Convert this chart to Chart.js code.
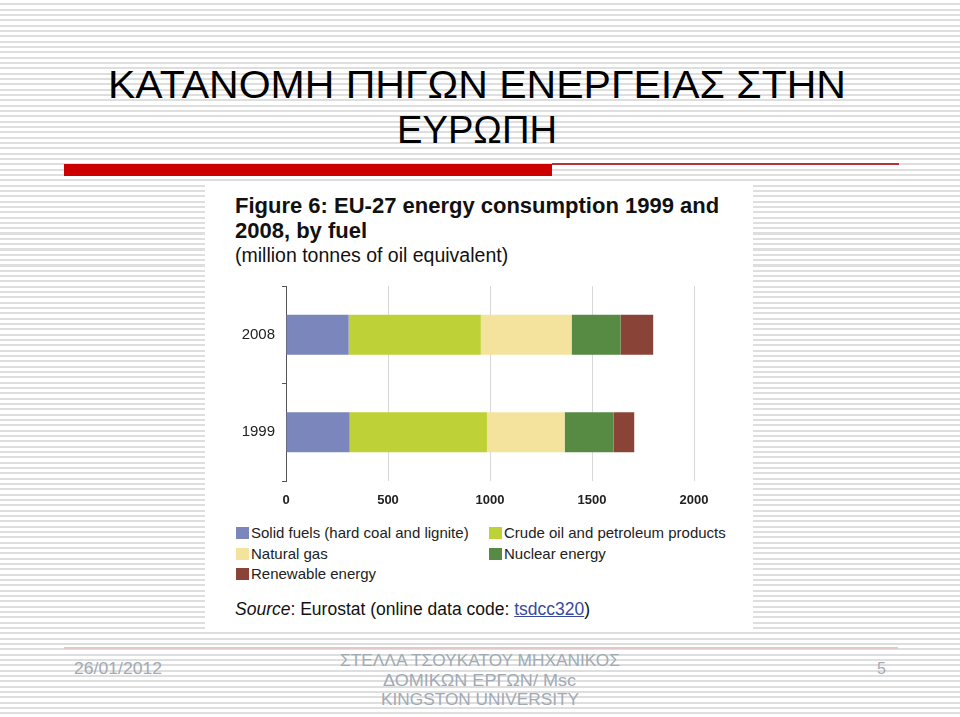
<!DOCTYPE html>
<html>
<head>
<meta charset="utf-8">
<script src="https://cdn.jsdelivr.net/npm/chart.js@4.4.1/dist/chart.umd.min.js"></script>
<style>
    html, body {
        margin: 0;
        padding: 0;
    }
    body {
        width: 960px;
        height: 717px;
        position: relative;
        overflow: hidden;
        background: #fff repeating-linear-gradient(to bottom, #fff 0px, #fff 3.3px, #dedede 3.3px, #dedede 5.33px);
    }
    .abs {
        position: absolute;
        white-space: nowrap;
    }
    .title {
        font-family: "Liberation Sans", sans-serif;
        font-size: 39.4px;
        line-height: 44px;
        color: #000;
        transform-origin: 0 0;
    }
    .redbar {
        left: 64px;
        top: 164px;
        width: 488px;
        height: 12px;
        background: #cc0000;
    }
    .redline {
        left: 552px;
        top: 163px;
        width: 347px;
        height: 2px;
        background: #b8323a;
    }
    .footline {
        left: 64px;
        top: 647px;
        width: 834px;
        height: 2px;
        background: #e2c8c8;
    }
    .panel {
        left: 205px;
        top: 182px;
        width: 548px;
        height: 450px;
        background: #fff;
    }
    .fig {
        font-family: "Liberation Sans", Arial, sans-serif;
        color: #111;
    }
    .legend-item {
        position: absolute;
        font-family: "Liberation Sans", Arial, sans-serif;
        font-size: 15px;
        line-height: 16px;
        color: #222;
        white-space: nowrap;
    }
    .legend-item span.box {
        position: absolute;
        left: 0;
        top: 2px;
        width: 13px;
        height: 12px;
    }
    .legend-item span.txt {
        position: absolute;
        left: 15px;
        top: 0;
    }
    .foot {
        font-family: "Liberation Sans", sans-serif;
        font-size: 16px;
        line-height: 18px;
        color: #a2aab4;
        transform-origin: 0 0;
    }
</style>
</head>
<body>

<!-- each text: [left, width] used to stretch it like the original slide -->
<div class="abs title fit" data-x="108" data-w="738" style="top:62px;">ΚΑΤΑΝΟΜΗ ΠΗΓΩΝ ΕΝΕΡΓΕΙΑΣ ΣΤΗΝ</div>
<div class="abs title fit" data-x="397" data-w="160" style="top:107px;">ΕΥΡΩΠΗ</div>
<div class="abs redbar"></div>
<div class="abs redline"></div>

<div class="abs panel"></div>
<div class="abs fig" style="left:235px;top:193px;font-size:22px;font-weight:bold;line-height:25px;">Figure 6: EU-27 energy consumption 1999 and<br>2008, by fuel</div>
<div class="abs fig" style="left:235px;top:244px;font-size:19.5px;line-height:22px;">(million tonnes of oil equivalent)</div>

<div class="abs" style="left:205px;top:270px;width:548px;height:245px;">
    <canvas id="energyChart"></canvas>
</div>

<div id="legend"></div>

<div class="abs fig" style="left:235px;top:599px;font-size:17.5px;line-height:20px;"><i>Source</i>: Eurostat (online data code: <span style="color:#3a4a9a;text-decoration:underline;">tsdcc320</span>)</div>

<div class="abs footline"></div>
<div class="abs foot fit" data-x="74" data-w="88" style="top:660px;">26/01/2012</div>
<div class="abs foot fit" data-x="340" data-w="280" style="top:652px;">ΣΤΕΛΛΑ ΤΣΟΥΚΑΤΟΥ ΜΗΧΑΝΙΚΟΣ</div>
<div class="abs foot fit" data-x="383" data-w="193" style="top:672px;">ΔΟΜΙΚΩΝ ΕΡΓΩΝ/ Msc</div>
<div class="abs foot fit" data-x="381" data-w="198" style="top:691px;">KINGSTON UNIVERSITY</div>
<div class="abs foot" style="left:877px;top:660px;">5</div>

<script>
    // Datos (million tonnes of oil equivalent)
    const categories = ['2008', '1999'];
    const solidFuels = [307, 312];
    const crudeOil = [648, 673];
    const naturalGas = [445, 381];
    const nuclearEnergy = [240, 240];
    const renewableEnergy = [160, 101];
    const xTicks = [0, 500, 1000, 1500, 2000];

    const seriesNames = [
        'Solid fuels (hard coal and lignite)',
        'Crude oil and petroleum products',
        'Natural gas',
        'Nuclear energy',
        'Renewable energy'
    ];
    const seriesValues = [solidFuels, crudeOil, naturalGas, nuclearEnergy, renewableEnergy];
    const seriesColors = ['#7b86bc', '#bed136', '#f4e39d', '#578a43', '#8a4437'];

    // stretch slide texts to the width they have in the original
    document.querySelectorAll('.fit').forEach((el) => {
        el.style.left = el.dataset.x + 'px';
        const w = el.getBoundingClientRect().width;
        el.style.transform = 'scaleX(' + (Number(el.dataset.w) / w) + ')';
    });

    const datasets = seriesNames.map((name, i) => ({
        label: name,
        data: seriesValues[i],
        backgroundColor: seriesColors[i],
        borderWidth: 0,
        barPercentage: 0.41,
        categoryPercentage: 1.0,
    }));

    const chart = new Chart(document.getElementById('energyChart'), {
        type: 'bar',
        data: {
            labels: categories,
            datasets: datasets
        },
        options: {
            indexAxis: 'y',
            responsive: true,
            maintainAspectRatio: false,
            animation: false,
            layout: {
                padding: { top: 10, right: 59, bottom: 0, left: 0 }
            },
            plugins: {
                legend: { display: false },
                tooltip: { enabled: false },
                title: { display: false }
            },
            scales: {
                x: {
                    type: 'linear',
                    stacked: true,
                    min: 0,
                    max: 2000,
                    afterBuildTicks: (scale) => {
                        scale.ticks = xTicks.map(v => ({ value: v }));
                    },
                    afterFit: (scale) => {
                        scale.height = 34;
                    },
                    border: { display: false },
                    grid: {
                        display: true,
                        color: '#d8d8d8',
                        lineWidth: 1,
                        drawTicks: false
                    },
                    ticks: {
                        padding: 12,
                        color: '#222',
                        font: { family: 'Liberation Sans', size: 13, weight: 'bold' },
                        callback: (value) => String(value)
                    }
                },
                y: {
                    stacked: true,
                    afterFit: (scale) => {
                        scale.width = 81;
                    },
                    border: { display: true, color: '#555', width: 1 },
                    grid: {
                        offset: true,
                        drawOnChartArea: false,
                        drawTicks: true,
                        tickLength: 4,
                        color: '#555'
                    },
                    ticks: {
                        padding: 7,
                        color: '#222',
                        font: { family: 'Liberation Sans', size: 15 }
                    }
                }
            }
        }
    });

    // Leyenda en dos columnas
    const legendPos = [
        [236, 525], [489, 525],
        [236, 546], [489, 546],
        [236, 566]
    ];
    const legendEl = document.getElementById('legend');
    chart.data.datasets.forEach((ds, i) => {
        const item = document.createElement('div');
        item.className = 'legend-item';
        item.style.left = legendPos[i][0] + 'px';
        item.style.top = legendPos[i][1] + 'px';
        item.innerHTML = '<span class="box" style="background:' + ds.backgroundColor + '"></span>' +
            '<span class="txt">' + ds.label + '</span>';
        legendEl.appendChild(item);
    });
</script>
</body>
</html>
